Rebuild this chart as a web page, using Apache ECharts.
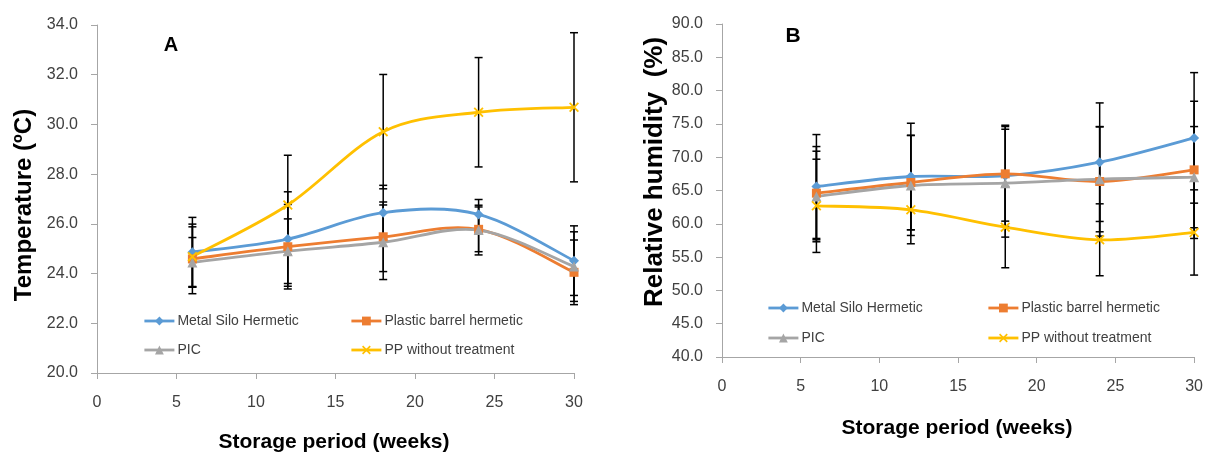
<!DOCTYPE html>
<html>
<head>
<meta charset="utf-8">
<style>
  html, body { margin: 0; padding: 0; background: #fff; }
  #chart { width: 1206px; height: 457px; }
</style>
<script src="https://cdn.jsdelivr.net/npm/echarts@6/dist/echarts.min.js"></script>
</head>
<body>
<div id="chart"></div>
<script>
// storage weeks (x)
const weeks = [6, 12, 18, 24, 30];

const seriesNames = [
  "Metal Silo Hermetic",
  "Plastic barrel hermetic",
  "PIC",
  "PP without treatment",
];

// A: temperature (ºC) mean and +/- error
const tempMetal = [24.86, 25.39, 26.45, 26.38, 24.52];
const tempPlastic = [24.59, 25.08, 25.48, 25.78, 24.05];
const tempPic = [24.45, 24.9, 25.26, 25.75, 24.28];
const tempPP = [24.68, 26.76, 29.71, 30.49, 30.69];

const tempMetalErr = [1.4, 1.9, 1.1, 0.6, 1.4];
const tempPlasticErr = [1.4, 1.7, 1.4, 0.9, 1.3];
const tempPicErr = [1.0, 1.3, 1.5, 1.0, 1.4];
const tempPPErr = [1.2, 2.0, 2.3, 2.2, 3.0];

// B: relative humidity (%) mean and +/- error
const rhMetal = [65.6, 67.1, 67.2, 69.25, 72.9];
const rhPlastic = [64.6, 66.2, 67.5, 66.35, 68.1];
const rhPic = [64.1, 65.75, 66.1, 66.7, 67.0];
const rhPP = [62.7, 62.1, 59.5, 57.6, 58.7];

const rhMetalErr = [7.8, 8.0, 7.6, 8.9, 9.8];
const rhPlasticErr = [7.0, 7.1, 7.1, 8.2, 10.3];
const rhPicErr = [6.8, 7.5, 8.1, 7.9, 7.6];
const rhPPErr = [7.0, 5.1, 6.1, 5.4, 6.4];

const colors = ["#5B9BD5", "#ED7D31", "#A5A5A5", "#FFC000"];
const xMark =
  "path://M0,1.3L1.3,0L5,3.7L8.7,0L10,1.3L6.3,5L10,8.7L8.7,10L5,6.3L1.3,10L0,8.7L3.7,5Z";
const symbols = ["diamond", "rect", "triangle", xMark];
const symbolSizes = [10, 9, 10, 10];

const FONT = "Liberation Sans";
const labelColor = "#404040";
const axisColor = "#A6A6A6";
const LINE_W = 2.8;

// markers + legend entry; the curve itself is drawn by smoothCurve()
function markerSeries(idx, values, gridIdx) {
  return {
    name: seriesNames[idx],
    type: "line",
    xAxisIndex: gridIdx,
    yAxisIndex: gridIdx,
    data: weeks.map((w, i) => [w, values[i]]),
    symbol: symbols[idx],
    symbolSize: symbolSizes[idx],
    showAllSymbol: true,
    color: colors[idx],
    lineStyle: { width: LINE_W, color: colors[idx], opacity: 0 },
    itemStyle: { color: colors[idx] },
    z: 4,
  };
}

// Excel-like smoothed line (Catmull-Rom through the points)
function smoothCurve(idx, values, gridIdx) {
  return {
    type: "custom",
    name: "curve" + gridIdx + "_" + idx,
    xAxisIndex: gridIdx,
    yAxisIndex: gridIdx,
    data: weeks.map((w, i) => [w, values[i]]),
    encode: { x: 0, y: 1 },
    clip: false,
    silent: true,
    z: 3,
    renderItem: (params, api) => {
      if (params.dataIndex !== 0) return null;
      const pts = weeks.map((w, i) => api.coord([w, values[i]]));
      let d = `M${pts[0][0]},${pts[0][1]}`;
      for (let i = 0; i < pts.length - 1; i++) {
        const p0 = pts[Math.max(i - 1, 0)];
        const p1 = pts[i];
        const p2 = pts[i + 1];
        const p3 = pts[Math.min(i + 2, pts.length - 1)];
        const c1 = [p1[0] + (p2[0] - p0[0]) / 6, p1[1] + (p2[1] - p0[1]) / 6];
        const c2 = [p2[0] - (p3[0] - p1[0]) / 6, p2[1] - (p3[1] - p1[1]) / 6];
        d += `C${c1[0]},${c1[1]} ${c2[0]},${c2[1]} ${p2[0]},${p2[1]}`;
      }
      return {
        type: "path",
        shape: { pathData: d },
        style: { fill: "none", stroke: colors[idx], lineWidth: LINE_W, lineJoin: "round" },
      };
    },
  };
}

function errorSeries(pairs, gridIdx) {
  const rows = [];
  pairs.forEach(([vals, errs]) => {
    weeks.forEach((w, i) => rows.push([w, vals[i] - errs[i], vals[i] + errs[i]]));
  });
  return {
    type: "custom",
    name: "err" + gridIdx,
    xAxisIndex: gridIdx,
    yAxisIndex: gridIdx,
    data: rows,
    encode: { x: 0, y: [1, 2] },
    clip: false,
    silent: true,
    z: 2,
    renderItem: (params, api) => {
      const x = api.value(0);
      const lo = api.coord([x, api.value(1)]);
      const hi = api.coord([x, api.value(2)]);
      const cap = 4;
      const style = { stroke: "#000", lineWidth: 1.5 };
      return {
        type: "group",
        children: [
          { type: "line", shape: { x1: lo[0], y1: lo[1], x2: hi[0], y2: hi[1] }, style },
          { type: "line", shape: { x1: hi[0] - cap, y1: hi[1], x2: hi[0] + cap, y2: hi[1] }, style },
          { type: "line", shape: { x1: lo[0] - cap, y1: lo[1], x2: lo[0] + cap, y2: lo[1] }, style },
        ],
      };
    },
  };
}

function xAxisCfg(gridIdx) {
  return {
    gridIndex: gridIdx,
    type: "value",
    min: 0,
    max: 30,
    interval: 5,
    axisLine: { onZero: false, lineStyle: { color: axisColor, width: 1 } },
    axisTick: { show: true, length: 6, lineStyle: { color: axisColor } },
    axisLabel: { margin: 22, fontSize: 16, fontFamily: FONT, color: labelColor },
    splitLine: { show: false },
  };
}

function yAxisCfg(gridIdx, min, max, interval) {
  return {
    gridIndex: gridIdx,
    type: "value",
    min,
    max,
    interval,
    axisLine: { show: true, lineStyle: { color: axisColor, width: 1 } },
    axisTick: { show: true, length: 6, lineStyle: { color: axisColor } },
    axisLabel: {
      margin: 19,
      fontSize: 16,
      fontFamily: FONT,
      color: labelColor,
      formatter: (v) => v.toFixed(1),
    },
    splitLine: { show: false },
  };
}

function legendItem(name, left, centerY) {
  return {
    data: [name],
    left,
    top: centerY - 8,
    itemWidth: 30,
    itemHeight: 11,
    itemGap: 0,
    padding: 0,
    lineStyle: { width: LINE_W, opacity: 1 },
    textStyle: { fontSize: 14, fontFamily: FONT, color: labelColor, padding: [0, 0, 0, -2] },
    selectedMode: false,
  };
}

function titleText(text, x, y, size, rotate) {
  return {
    type: "text",
    x,
    y,
    rotation: rotate ? Math.PI / 2 : 0,
    style: {
      text,
      font: `bold ${size}px "${FONT}"`,
      fill: "#000",
      align: "center",
      verticalAlign: "middle",
    },
  };
}

const chart = echarts.init(document.getElementById("chart"), null, { renderer: "canvas" });

const tempPairs = [
  [tempMetal, tempMetalErr],
  [tempPlastic, tempPlasticErr],
  [tempPic, tempPicErr],
  [tempPP, tempPPErr],
];
const rhPairs = [
  [rhMetal, rhMetalErr],
  [rhPlastic, rhPlasticErr],
  [rhPic, rhPicErr],
  [rhPP, rhPPErr],
];

const series = [errorSeries(tempPairs, 0), errorSeries(rhPairs, 1)];
tempPairs.forEach(([vals], i) => series.push(smoothCurve(i, vals, 0), markerSeries(i, vals, 0)));
rhPairs.forEach(([vals], i) => series.push(smoothCurve(i, vals, 1), markerSeries(i, vals, 1)));

chart.setOption({
  animation: false,
  backgroundColor: "#fff",
  grid: [
    { left: 97, top: 25, width: 477, height: 348 },
    { left: 722, top: 24, width: 473, height: 333 },
  ],
  xAxis: [xAxisCfg(0), xAxisCfg(1)],
  yAxis: [yAxisCfg(0, 20, 34, 2), yAxisCfg(1, 40, 90, 5)],
  legend: [
    legendItem(seriesNames[0], 143, 322),
    legendItem(seriesNames[1], 350, 322),
    legendItem(seriesNames[2], 143, 351),
    legendItem(seriesNames[3], 350, 351),
    legendItem(seriesNames[0], 767, 309),
    legendItem(seriesNames[1], 987, 309),
    legendItem(seriesNames[2], 767, 339),
    legendItem(seriesNames[3], 987, 339),
  ],
  graphic: [
    titleText("A", 171, 45, 20, false),
    titleText("B", 793, 36, 21, false),
    titleText("Temperature (ºC)", 24, 205, 24, true),
    titleText("Relative humidity  (%)", 655, 172, 26, true),
    titleText("Storage period (weeks)", 334, 442, 21, false),
    titleText("Storage period (weeks)", 957, 428, 21, false),
  ],
  series,
});
</script>
</body>
</html>
